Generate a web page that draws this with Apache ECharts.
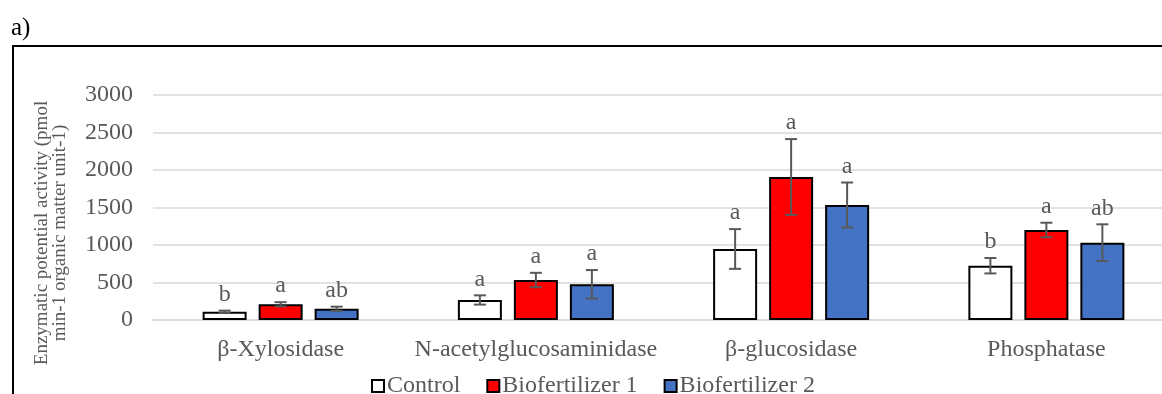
<!DOCTYPE html>
<html>
<head>
<meta charset="utf-8">
<script src="https://cdn.jsdelivr.net/npm/echarts@6/dist/echarts.min.js"></script>
<style>
html,body{margin:0;padding:0;background:#fff;overflow:hidden;width:1162px;height:394px;}
#c{width:1180px;height:394px;}
</style>
</head>
<body>
<div id="c"></div>
<script>
const categories = ['β-Xylosidase', 'N-acetylglucosaminidase', 'β-glucosidase', 'Phosphatase'];
const seriesNames = ['Control', 'Biofertilizer 1', 'Biofertilizer 2'];
const controlVals = [110, 267, 947, 724];
const controlErr = [15, 62, 265, 103];
const controlLetters = ['b', 'a', 'a', 'b'];
const bio1Vals = [210, 533, 1907, 1200];
const bio1Err = [28, 96, 505, 97];
const bio1Letters = ['a', 'a', 'a', 'a'];
const bio2Vals = [150, 476, 1533, 1031];
const bio2Err = [28, 190, 300, 245];
const bio2Letters = ['ab', 'a', 'a', 'ab'];
const yTicks = [0, 500, 1000, 1500, 2000, 2500, 3000];

const FONT = "'Liberation Serif', 'Times New Roman', serif";
const TXT = '#595959';
const colors = ['#FFFFFF', '#FF0000', '#4472C4'];
const vals = [controlVals, bio1Vals, bio2Vals];
const errs = [controlErr, bio1Err, bio2Err];
const letters = [controlLetters, bio1Letters, bio2Letters];
const BAR_W = 44, BAR_GAP = 12;

const chart = echarts.init(document.getElementById('c'), null, {renderer: 'canvas'});

const barSeries = seriesNames.map((n, i) => ({
  name: n,
  type: 'bar',
  data: vals[i],
  barWidth: BAR_W,
  barGap: (BAR_GAP / BAR_W * 100) + '%',
  itemStyle: {color: colors[i], borderColor: '#000', borderWidth: 2},
  z: 2
}));

const errSeries = seriesNames.map((n, i) => ({
  name: n + ' err',
  type: 'custom',
  z: 5,
  clip: false,
  data: vals[i].map((v, k) => [k, v, errs[i][k]]),
  renderItem: function (params, api) {
    const off = (i - 1) * (BAR_W + BAR_GAP);
    const cx = api.coord([api.value(0), 0])[0] + off;
    const v = api.value(1), e = api.value(2);
    const yHi = api.coord([api.value(0), v + e])[1];
    const yLo = api.coord([api.value(0), v - e])[1];
    const cap = 6;
    const ls = {stroke: '#595959', lineWidth: 2};
    return {
      type: 'group',
      children: [
        {type: 'line', shape: {x1: cx, y1: yHi, x2: cx, y2: yLo}, style: ls},
        {type: 'line', shape: {x1: cx - cap, y1: yHi, x2: cx + cap, y2: yHi}, style: ls},
        {type: 'line', shape: {x1: cx - cap, y1: yLo, x2: cx + cap, y2: yLo}, style: ls},
        {type: 'text', x: cx, y: yHi - 4, style: {
          text: letters[i][params.dataIndex], fill: TXT, font: '24px ' + FONT,
          textAlign: 'center', textVerticalAlign: 'bottom'
        }}
      ]
    };
  }
}));

chart.setOption({
  animation: false,
  backgroundColor: '#fff',
  grid: {left: 153, right: 6, top: 95, bottom: 74},
  legend: {
    data: seriesNames,
    left: 366, top: 369,
    itemWidth: 12, itemHeight: 12, itemGap: 26,
    icon: 'rect',
    textStyle: {color: TXT, fontSize: 24, fontFamily: FONT, padding: [0, 0, 0, -2]}
  },
  xAxis: {
    type: 'category',
    data: categories,
    axisTick: {show: false},
    axisLine: {lineStyle: {color: '#d9d9d9', width: 1.5}},
    axisLabel: {color: TXT, fontSize: 24, fontFamily: FONT, margin: 18, interval: 0}
  },
  yAxis: {
    type: 'value',
    min: yTicks[0], max: yTicks[yTicks.length - 1], interval: 500,
    axisLine: {show: false},
    axisTick: {show: false},
    splitLine: {lineStyle: {color: '#d9d9d9', width: 1.5}},
    axisLabel: {color: TXT, fontSize: 24, fontFamily: FONT, margin: 20, formatter: v => String(v)}
  },
  graphic: [
    {type: 'rect', shape: {x: 13, y: 46, width: 1400, height: 600}, style: {fill: 'none', stroke: '#000', lineWidth: 2}, z: 0, silent: true},
    {type: 'text', x: 11, y: 16, style: {text: 'a)', fill: '#000', font: '25px ' + FONT}},
    {type: 'text', x: 51, y: 233, rotation: Math.PI / 2, style: {
      text: 'Enzymatic potential activity (pmol\nmin-1 organic matter unit-1)',
      fill: TXT, font: '19px ' + FONT, textAlign: 'center', textVerticalAlign: 'middle', lineHeight: 18
    }}
  ],
  series: barSeries.concat(errSeries)
});
</script>
</body>
</html>
